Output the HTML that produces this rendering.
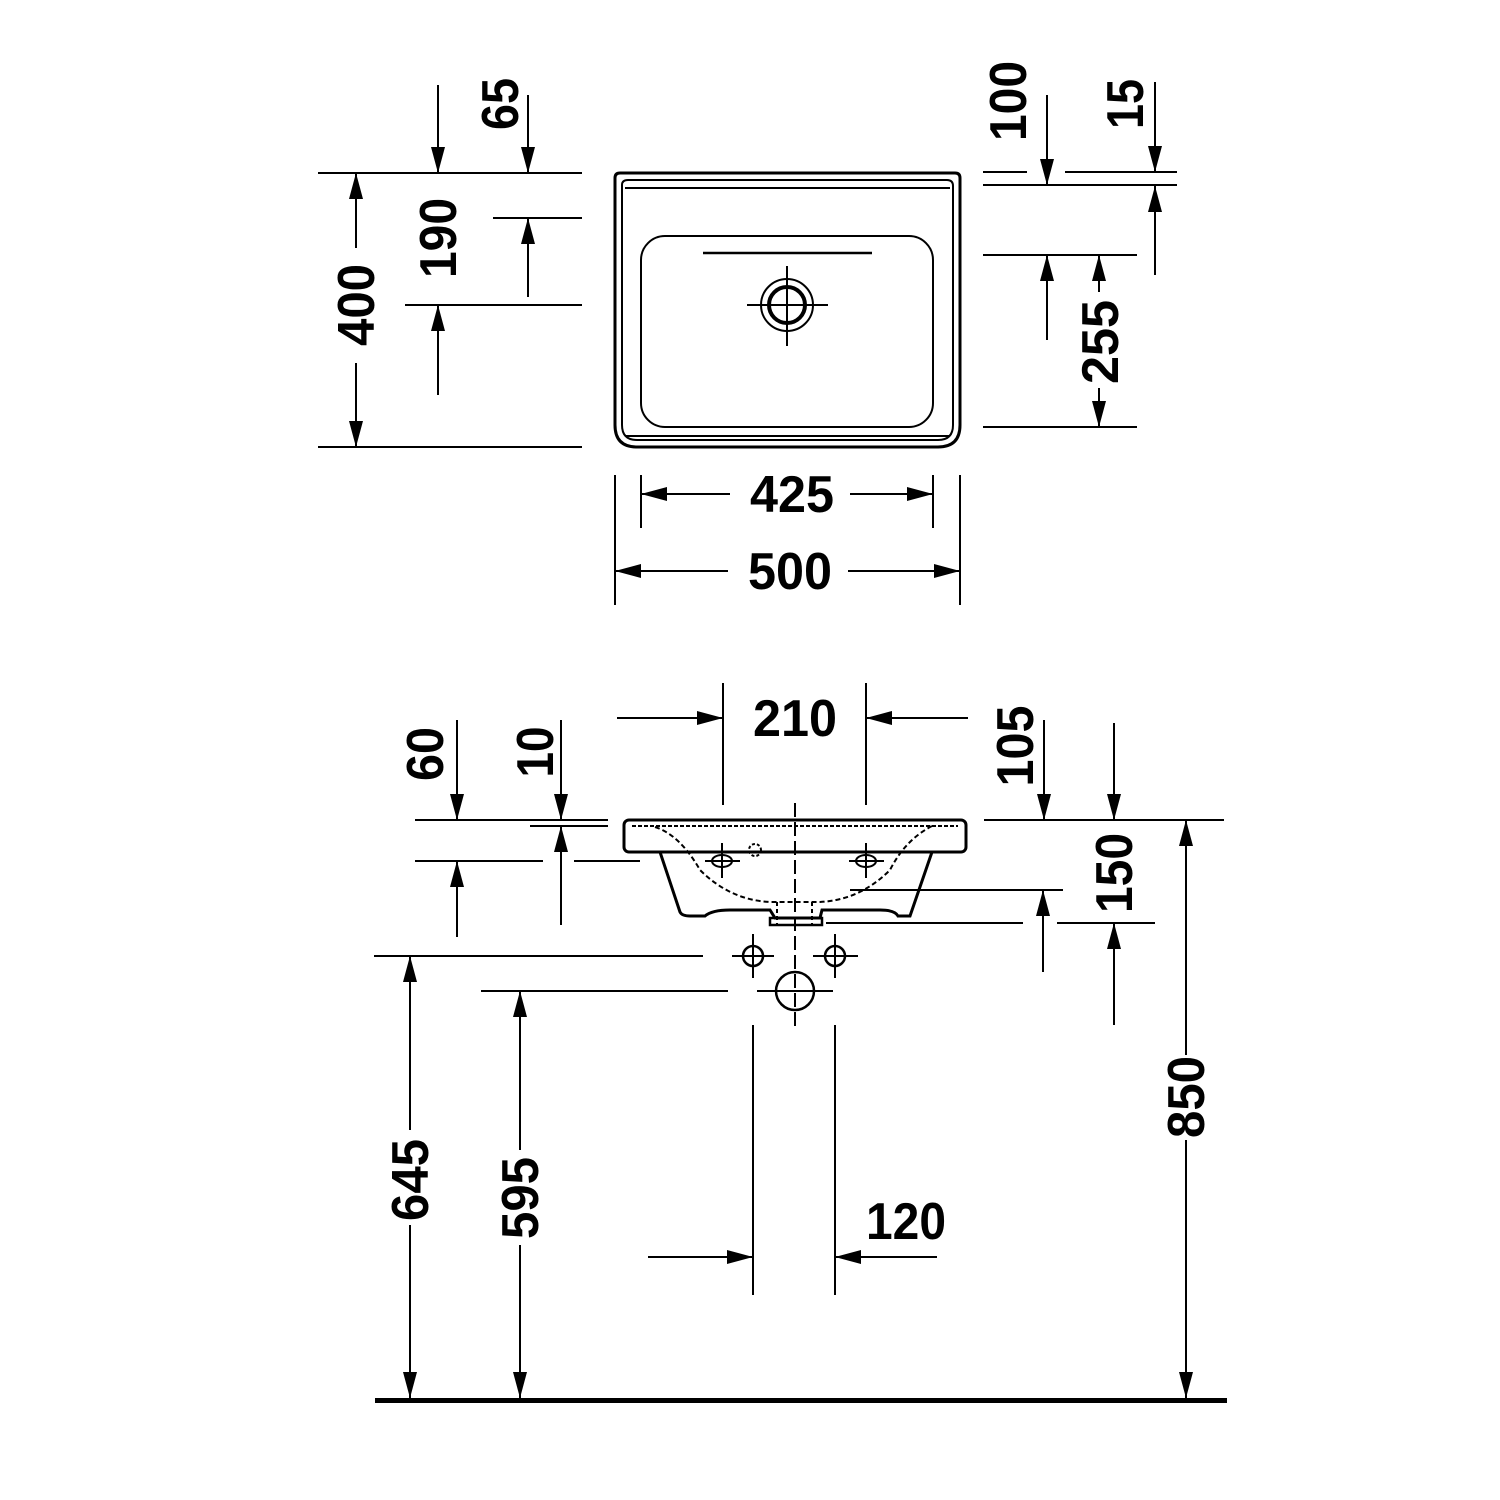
<!DOCTYPE html>
<html><head><meta charset="utf-8"><style>
html,body{margin:0;padding:0;background:#fff}
svg{display:block}
text{font-family:"Liberation Sans",sans-serif;font-weight:bold;font-size:52px;fill:#000}
</style></head><body>
<svg width="1500" height="1500" viewBox="0 0 1500 1500" xmlns="http://www.w3.org/2000/svg">
<defs>
<marker id="a" markerUnits="userSpaceOnUse" markerWidth="26" markerHeight="16" refX="26" refY="8" orient="auto"><path d="M0,1 L26,8 L0,15 Z" fill="#000"/></marker>
</defs>
<g stroke="#000" stroke-width="2" fill="none">
<!-- TOP VIEW -->
<path d="M615,178 Q615,173 620,173 L955,173 Q960,173 960,178 L960,425 Q960,447 938,447 L637,447 Q615,447 615,425 Z" stroke-width="3"/>
<path d="M622,185 Q622,180 628,180 L947,180 Q953,180 953,186 L953,425 Q953,440 938,440 L637,440 Q622,440 622,425 Z"/>
<path d="M625,188 L950,188 M625,436 L950,436"/>
<rect x="641" y="236" width="292" height="191" rx="24"/>
<path d="M703,253 L872,253" stroke-width="2.5"/>
<circle cx="787" cy="305" r="26"/>
<circle cx="787" cy="305" r="18" stroke-width="4"/>
<path d="M747,305 L828,305 M787,266 L787,346"/>

<!-- top-left dims -->
<path d="M318,173 L582,173 M318,447 L582,447 M493,218 L582,218 M405,305 L582,305"/>
<path d="M356,248 L356,173" marker-end="url(#a)"/>
<path d="M356,363 L356,447" marker-end="url(#a)"/>
<path d="M438,85 L438,173" marker-end="url(#a)"/>
<path d="M528,95 L528,173" marker-end="url(#a)"/>
<path d="M528,297 L528,218" marker-end="url(#a)"/>
<path d="M438,395 L438,305" marker-end="url(#a)"/>

<!-- top-right dims -->
<path d="M983,172 L1027,172 M1065,172 L1177,172 M983,185 L1177,185 M983,255 L1137,255 M983,427 L1137,427"/>
<path d="M1047,95 L1047,185" marker-end="url(#a)"/>
<path d="M1155,82 L1155,172" marker-end="url(#a)"/>
<path d="M1155,275 L1155,186" marker-end="url(#a)"/>
<path d="M1047,340 L1047,255" marker-end="url(#a)"/>
<path d="M1099,292 L1099,255" marker-end="url(#a)"/>
<path d="M1099,388 L1099,427" marker-end="url(#a)"/>

<!-- bottom of top view -->
<path d="M641,475 L641,528 M933,475 L933,528 M615,475 L615,605 M960,475 L960,605"/>
<path d="M730,494 L641,494" marker-end="url(#a)"/>
<path d="M850,494 L933,494" marker-end="url(#a)"/>
<path d="M728,571 L615,571" marker-end="url(#a)"/>
<path d="M848,571 L960,571" marker-end="url(#a)"/>

<!-- SIDE VIEW -->
<rect x="624" y="820" width="342" height="32" rx="5" stroke-width="3"/>
<path d="M632,826 L958,826" stroke-dasharray="4,2"/>
<path d="M660,852 L680,912 Q682,916 690,916 L705,916 Q712,910 730,910 L770,910 L775,918 L820,918 L822,910 L880,910 Q895,910 898,916 L910,916 L932,852" stroke-width="3"/>
<path d="M655,827 Q680,835 700,870 Q730,900 770,902 L820,902 Q860,900 890,870 Q905,840 932,826" stroke-dasharray="5,3"/>
<path d="M777,902 L777,925 M812,902 L812,925" stroke-dasharray="4,3"/>
<path d="M770,918 L822,918 L822,925 L770,925 Z" stroke-width="2.5"/>
<ellipse cx="722" cy="861" rx="10" ry="6"/><path d="M705,861 L740,861 M722,843 L722,878"/>
<ellipse cx="866" cy="861" rx="10" ry="6"/><path d="M849,861 L884,861 M866,843 L866,878"/>
<circle cx="755" cy="850" r="6" stroke-dasharray="3,2"/>
<path d="M795,803 L795,1028" stroke-dasharray="14,5"/>
<circle cx="753" cy="956" r="10" stroke-width="2.5"/><path d="M732,956 L774,956 M753,934 L753,978"/>
<circle cx="835" cy="956" r="10" stroke-width="2.5"/><path d="M813,956 L858,956 M835,934 L835,978"/>
<circle cx="795" cy="991" r="19" stroke-width="2.5"/><path d="M757,991 L833,991"/>

<!-- side dims left -->
<path d="M415,820 L608,820 M530,826 L608,826 M415,861 L543,861 M574,861 L640,861"/>
<path d="M457,720 L457,820" marker-end="url(#a)"/>
<path d="M457,937 L457,861" marker-end="url(#a)"/>
<path d="M561,720 L561,820" marker-end="url(#a)"/>
<path d="M561,925 L561,826" marker-end="url(#a)"/>
<path d="M374,956 L703,956 M481,991 L728,991"/>
<path d="M410,1130 L410,956" marker-end="url(#a)"/>
<path d="M410,1225 L410,1398" marker-end="url(#a)"/>
<path d="M520,1150 L520,991" marker-end="url(#a)"/>
<path d="M520,1245 L520,1398" marker-end="url(#a)"/>

<!-- 210 -->
<path d="M723,683 L723,805 M866,683 L866,805"/>
<path d="M617,718 L723,718" marker-end="url(#a)"/>
<path d="M968,718 L866,718" marker-end="url(#a)"/>

<!-- side dims right -->
<path d="M984,820 L1224,820 M850,890 L1063,890 M826,923 L1023,923 M1057,923 L1155,923"/>
<path d="M1044,720 L1044,820" marker-end="url(#a)"/>
<path d="M1114,723 L1114,820" marker-end="url(#a)"/>
<path d="M1043,972 L1043,890" marker-end="url(#a)"/>
<path d="M1114,1025 L1114,923" marker-end="url(#a)"/>
<path d="M1186,1055 L1186,820" marker-end="url(#a)"/>
<path d="M1186,1140 L1186,1398" marker-end="url(#a)"/>

<!-- 120 -->
<path d="M753,1025 L753,1295 M835,1025 L835,1295"/>
<path d="M648,1257 L753,1257" marker-end="url(#a)"/>
<path d="M937,1257 L835,1257" marker-end="url(#a)"/>
</g>
<rect x="375" y="1398" width="852" height="5" fill="#000"/>

<!-- labels -->
<text x="792" y="512" text-anchor="middle" textLength="84" lengthAdjust="spacingAndGlyphs">425</text>
<text x="790" y="589" text-anchor="middle" textLength="84" lengthAdjust="spacingAndGlyphs">500</text>
<text x="795" y="736" text-anchor="middle" textLength="84" lengthAdjust="spacingAndGlyphs">210</text>
<text x="906" y="1239" text-anchor="middle" textLength="80" lengthAdjust="spacingAndGlyphs">120</text>
<g>
<text transform="translate(374,305) rotate(-90)" text-anchor="middle" textLength="82" lengthAdjust="spacingAndGlyphs">400</text>
<text transform="translate(456,238) rotate(-90)" text-anchor="middle" textLength="80" lengthAdjust="spacingAndGlyphs">190</text>
<text transform="translate(518,104) rotate(-90)" text-anchor="middle" textLength="52" lengthAdjust="spacingAndGlyphs">65</text>
<text transform="translate(1026,101) rotate(-90)" text-anchor="middle" textLength="80" lengthAdjust="spacingAndGlyphs">100</text>
<text transform="translate(1143,104) rotate(-90)" text-anchor="middle" textLength="50" lengthAdjust="spacingAndGlyphs">15</text>
<text transform="translate(1118,342) rotate(-90)" text-anchor="middle" textLength="84" lengthAdjust="spacingAndGlyphs">255</text>
<text transform="translate(443,754) rotate(-90)" text-anchor="middle" textLength="54" lengthAdjust="spacingAndGlyphs">60</text>
<text transform="translate(553,752) rotate(-90)" text-anchor="middle" textLength="51" lengthAdjust="spacingAndGlyphs">10</text>
<text transform="translate(1033,746) rotate(-90)" text-anchor="middle" textLength="81" lengthAdjust="spacingAndGlyphs">105</text>
<text transform="translate(1132,873) rotate(-90)" text-anchor="middle" textLength="80" lengthAdjust="spacingAndGlyphs">150</text>
<text transform="translate(1204,1097) rotate(-90)" text-anchor="middle" textLength="82" lengthAdjust="spacingAndGlyphs">850</text>
<text transform="translate(428,1180) rotate(-90)" text-anchor="middle" textLength="82" lengthAdjust="spacingAndGlyphs">645</text>
<text transform="translate(538,1198) rotate(-90)" text-anchor="middle" textLength="82" lengthAdjust="spacingAndGlyphs">595</text>
</g>
</svg>
</body></html>
